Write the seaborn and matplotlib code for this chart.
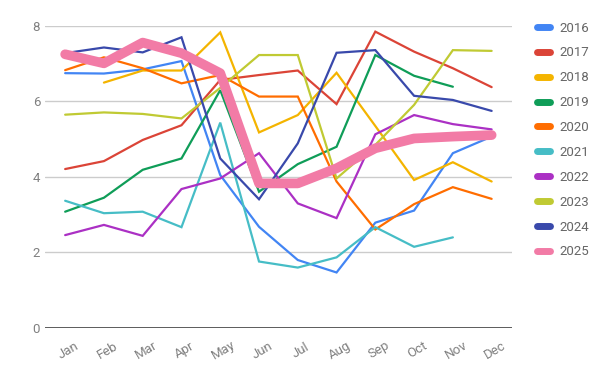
import numpy as np
import pandas as pd
import seaborn as sns
import matplotlib.pyplot as plt
from matplotlib.lines import Line2D

# -- Data
months = ["Jan", "Feb", "Mar", "Apr", "May", "Jun", "Jul", "Aug", "Sep", "Oct", "Nov", "Dec"]
nan = np.nan

y2016 = [6.75, 6.74, 6.85, 7.07, 4.05, 2.68, 1.80, 1.47, 2.79, 3.11, 4.63, 5.07]
y2017 = [4.21, 4.42, 4.98, 5.37, 6.57, 6.70, 6.82, 5.93, 7.85, 7.32, 6.88, 6.38]
y2018 = [nan, 6.50, 6.82, 6.82, 7.83, 5.18, 5.64, 6.76, 5.35, 3.92, 4.39, 3.88]
y2019 = [3.08, 3.45, 4.19, 4.49, 6.30, 3.61, 4.34, 4.80, 7.23, 6.68, 6.39, nan]
y2020 = [6.83, 7.17, 6.88, 6.48, 6.70, 6.13, 6.13, 3.88, 2.61, 3.28, 3.73, 3.42]
y2021 = [3.37, 3.04, 3.08, 2.67, 5.44, 1.76, 1.60, 1.87, 2.67, 2.15, 2.40, nan]
y2022 = [2.46, 2.73, 2.44, 3.68, 3.96, 4.63, 3.30, 2.91, 5.13, 5.64, 5.40, 5.26]
y2023 = [5.65, 5.71, 5.67, 5.55, 6.36, 7.23, 7.23, 3.96, 4.85, 5.91, 7.36, 7.34]
y2024 = [7.28, 7.43, 7.30, 7.70, 4.49, 3.41, 4.89, 7.29, 7.36, 6.15, 6.04, 5.75]
y2025 = [7.25, 7.01, 7.56, 7.28, 6.75, 3.83, 3.83, 4.23, 4.76, 5.02, 5.07, 5.11]

years = ["2016", "2017", "2018", "2019", "2020", "2021", "2022", "2023", "2024", "2025"]
values = [y2016, y2017, y2018, y2019, y2020, y2021, y2022, y2023, y2024, y2025]
colors = ["#4285F4", "#DB4437", "#F4B400", "#0F9D58", "#FF6D00",
          "#46BDC6", "#AB30C4", "#C0CA33", "#3949AB", "#F27BA6"]

# -- Long table for seaborn
records = []
for yr, vals in zip(years, values):
    for i, v in enumerate(vals):
        records.append({"month": i, "year": yr, "value": v})
df = pd.DataFrame(records).dropna()

sns.set_theme(style="white")
plt.rcParams["font.family"] = ["Roboto", "DejaVu Sans"]

fig = plt.figure(figsize=(6, 3.71), dpi=100)
ax = fig.add_axes([0.075, 0.116, 0.778, 0.814])

for yr, col in zip(years, colors):
    lw = 7 if yr == "2025" else 1.6
    sns.lineplot(data=df[df["year"] == yr], x="month", y="value", color=col,
                 linewidth=lw, ax=ax, legend=False,
                 solid_joinstyle="round" if yr == "2025" else "miter")

ax.set_xlim(-0.52, 11.52)
ax.set_ylim(0, 8)
ax.set_yticks([0, 2, 4, 6, 8])
ax.set_xticks(range(12))
ax.set_xticklabels(months, rotation=30, ha="center", rotation_mode="anchor")
ax.tick_params(axis="both", colors="#808080", labelsize=9.5, length=0)
ax.tick_params(axis="x", pad=12)
ax.set_xlabel("")
ax.set_ylabel("")
ax.grid(axis="y", color="#cccccc", linewidth=1)
ax.axhline(0, color="#333333", linewidth=1.1, zorder=3)
for s in ax.spines.values():
    s.set_visible(False)

handles = [Line2D([0], [0], color=c, linewidth=5) for c in colors]
leg = fig.legend(handles, years, loc="upper left", bbox_to_anchor=(0.875, 0.974),
                 frameon=False, fontsize=9.5, handlelength=1.0, handletextpad=0.7,
                 labelspacing=0.9, labelcolor="#666666")

fig.savefig("out.png", dpi=100)
